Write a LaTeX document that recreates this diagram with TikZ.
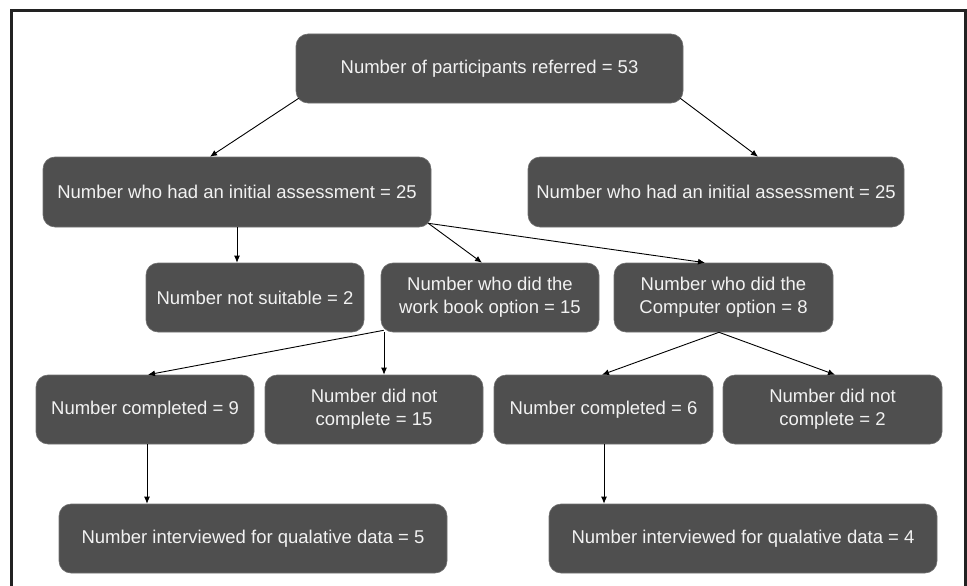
\documentclass[tikz,border=0pt]{standalone}
\usepackage{fontspec}
\setmainfont{Liberation Sans}
\usetikzlibrary{arrows.meta}
\definecolor{boxfill}{HTML}{4F4F4F}
\definecolor{boxedge}{HTML}{707070}
\definecolor{boxtext}{HTML}{F2F2F2}
\definecolor{framecol}{HTML}{222222}
\tikzset{
  box/.style={rectangle, rounded corners=12pt, fill=boxfill, draw=boxedge, line width=0.6pt,
    text=boxtext, align=center, inner sep=0pt,
    font=\fontsize{18.5}{23}\selectfont, minimum height=69pt},
  conn/.style={draw=black, line width=0.9pt, -{Latex[length=7pt,width=6pt]}},
}
\begin{document}
\begin{tikzpicture}[x=1pt, y=-1pt]
\useasboundingbox (0,0) rectangle (967,586);
\draw[framecol, line width=3pt] (11,590) -- (11,11) -- (965,11) -- (965,590);

\node[box, minimum width=387pt] (top) at (489.5,68.5) {Number of participants referred = 53};
\node[box, minimum width=388pt, minimum height=70pt] (l2l) at (237,192) {Number who had an initial assessment = 25};
\node[box, minimum width=376pt, minimum height=70pt] (l2r) at (716,192) {Number who had an initial assessment = 25};

\node[box, minimum width=218pt] (ns) at (255,297.5) {Number not suitable = 2};
\node[box, minimum width=218pt] (wb) at (490,297.5) {Number who did the\\work book option = 15};
\node[box, minimum width=219pt] (co) at (723.5,297.5) {Number who did the\\Computer option = 8};

\node[box, minimum width=218pt] (c9) at (145,409.5) {Number completed = 9};
\node[box, minimum width=218pt] (nc15) at (374,409.5) {Number did not\\complete = 15};
\node[box, minimum width=219pt] (c6) at (603.5,409.5) {Number completed = 6};
\node[box, minimum width=219pt] (nc2) at (832.5,409.5) {Number did not\\complete = 2};

\node[box, minimum width=388pt] (i5) at (253,538.5) {Number interviewed for qualative data = 5};
\node[box, minimum width=388pt] (i4) at (743,538.5) {Number interviewed for qualative data = 4};

% connectors
\draw[conn] ([shift={(3pt,5pt)}]top.south west) -- ([xshift=-27pt]l2l.north);
\draw[conn] ([shift={(-3pt,5pt)}]top.south east) -- ([xshift=42pt]l2r.north);

\coordinate (p1) at ([xshift=-18pt]ns.north);
\draw[conn] (p1 |- l2l.south) -- (p1);
\draw[conn] ([shift={(-3pt,4pt)}]l2l.south east) -- ([xshift=-8pt]wb.north);
\draw[conn] ([shift={(-3pt,4pt)}]l2l.south east) -- ([xshift=-18.5pt]co.north);

\draw[conn] ([shift={(3pt,2pt)}]wb.south west) -- ([xshift=3pt]c9.north);
\coordinate (p2) at ([xshift=10pt]nc15.north);
\draw[conn] (p2 |- wb.south) -- (p2);

\draw[conn] ([xshift=-4.5pt]co.south) -- ([xshift=-1.5pt]c6.north);
\draw[conn] ([xshift=-4.5pt]co.south) -- ([xshift=2.5pt]nc2.north);

\coordinate (p3) at ([xshift=-106pt]i5.north);
\draw[conn] (p3 |- c9.south) -- (p3);
\coordinate (p4) at ([xshift=0.5pt]c6.south);
\draw[conn] (p4) -- (p4 |- i4.north);
\end{tikzpicture}
\end{document}
